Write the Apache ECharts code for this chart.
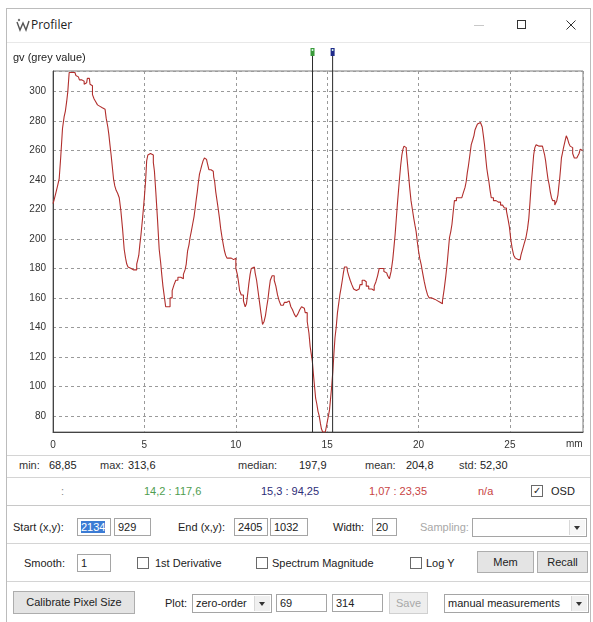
<!DOCTYPE html>
<html><head><meta charset="utf-8">
<script src="https://cdn.jsdelivr.net/npm/echarts@6/dist/echarts.min.js"></script>
<style>
body{margin:0;width:593px;height:622px;background:#fff;font-family:"Liberation Sans",Arial,sans-serif;font-size:11px;color:#222;position:relative;overflow:hidden}
.a{position:absolute;white-space:nowrap;line-height:14px}
.box{position:absolute;border:1px solid #a5a5a5;background:#fff;height:18px;line-height:16px;padding-left:3px;box-sizing:border-box;white-space:nowrap}
.btn{position:absolute;border:1px solid #adadad;background:#e4e4e4;text-align:center;box-sizing:border-box;line-height:20px;white-space:nowrap}
.cb{position:absolute;width:12px;height:12px;border:1px solid #6a6a6a;background:#fff;box-sizing:border-box}
.hl{position:absolute;height:1px;background:#d4d4d4}
.arrow{position:absolute;width:15px;top:1px;bottom:1px;right:1px;background:#f0f0f0;border-left:1px solid #d8d8d8}
.arrow:after{content:"";position:absolute;left:4px;top:6px;border-left:3px solid transparent;border-right:3px solid transparent;border-top:4px solid #333}
</style></head><body>
<div style="position:absolute;left:6px;top:8px;width:585px;height:620px;border:1px solid #bcbcbc;box-sizing:border-box"></div>
<svg class="a" style="left:16px;top:18px" width="14" height="14" viewBox="0 0 14 14"><path d="M1 4 L4 12 L7 5 L10 12 L13 3" fill="none" stroke="#555" stroke-width="1.4"/><circle cx="3" cy="2" r="1.2" fill="#777"/></svg>
<div class="a" style="left:31px;top:18px;font-family:'Open Sans',sans-serif;font-size:12px;color:#222">Profiler</div>
<div class="a" style="left:474px;top:25px;width:10px;height:1px;background:#c8c8c8"></div>
<div class="a" style="left:517px;top:20px;width:9px;height:9px;border:1px solid #333;box-sizing:border-box"></div>
<svg class="a" style="left:566px;top:20px" width="10" height="10"><path d="M0.5 0.5 L9.5 9.5 M9.5 0.5 L0.5 9.5" stroke="#333" stroke-width="1"/></svg>
<div class="hl" style="left:7px;top:42px;width:583px;background:#e8e8e8"></div>
<div id="chart" style="position:absolute;left:7px;top:43px;width:582px;height:412px"></div>
<div class="hl" style="left:7px;top:455px;width:583px"></div>
<div id="stats"></div>
<div class="hl" style="left:7px;top:477px;width:583px"></div>
<div class="hl" style="left:7px;top:505px;width:583px;background:#c8c8c8"></div>
<div class="hl" style="left:7px;top:543px;width:583px"></div>
<div class="hl" style="left:7px;top:581px;width:583px"></div>

<div class="a" style="left:13px;top:520px">Start (x,y):</div>
<div class="box" style="left:77px;top:518px;width:34px"><span style="background:#3b7bd4;color:#fff">2134</span></div>
<div class="box" style="left:114px;top:518px;width:37px">929</div>
<div class="a" style="left:178px;top:520px">End (x,y):</div>
<div class="box" style="left:234px;top:518px;width:34px">2405</div>
<div class="box" style="left:270px;top:518px;width:38px">1032</div>
<div class="a" style="left:333px;top:520px">Width:</div>
<div class="box" style="left:372px;top:518px;width:25px">20</div>
<div class="a" style="left:420px;top:520px;color:#a8a8a8">Sampling:</div>
<div class="box" style="left:472px;top:518px;width:115px;height:19px"><div class="arrow" style="background:#f6f6f6"></div></div>

<div class="a" style="left:24px;top:556px">Smooth:</div>
<div class="box" style="left:77px;top:554px;width:34px">1</div>
<div class="cb" style="left:137px;top:557px"></div><div class="a" style="left:155px;top:556px">1st Derivative</div>
<div class="cb" style="left:256px;top:557px"></div><div class="a" style="left:272px;top:556px">Spectrum Magnitude</div>
<div class="cb" style="left:410px;top:557px"></div><div class="a" style="left:426px;top:556px">Log Y</div>
<div class="btn" style="left:477px;top:551px;width:57px;height:22px">Mem</div>
<div class="btn" style="left:537px;top:551px;width:51px;height:22px">Recall</div>

<div class="btn" style="left:13px;top:591px;width:122px;height:23px">Calibrate Pixel Size</div>
<div class="a" style="left:165px;top:596px">Plot:</div>
<div class="box" style="left:192px;top:594px;width:80px;height:19px">zero-order<div class="arrow"></div></div>
<div class="box" style="left:276px;top:594px;width:51px">69</div>
<div class="box" style="left:332px;top:594px;width:51px">314</div>
<div class="btn" style="left:389px;top:592px;width:39px;height:22px;color:#a8a8a8;background:#eeeeee;border-color:#d0d0d0">Save</div>
<div class="box" style="left:444px;top:594px;width:145px;height:19px">manual measurements<div class="arrow"></div></div>

<script>
// profile position along the line (mm)
const xMm = [0.00,0.10,0.20,0.30,0.38,0.47,0.57,0.65,0.71,0.78,0.84,0.93,1.05,1.20,1.30,1.39,1.50,1.66,1.75,1.84,1.92,1.99,2.06,2.12,2.20,2.30,2.39,2.48,2.57,2.70,2.85,2.97,3.03,3.08,3.15,3.21,3.28,3.34,3.42,3.49,3.58,3.67,3.76,3.85,3.94,4.00,4.07,4.14,4.21,4.35,4.49,4.55,4.61,4.67,4.72,4.78,4.85,4.92,4.98,5.04,5.09,5.16,5.22,5.27,5.40,5.46,5.52,5.58,5.67,5.76,5.86,5.92,5.98,6.05,6.13,6.20,6.35,6.46,6.58,6.67,6.77,6.90,7.08,7.19,7.26,7.32,7.41,7.47,7.53,7.60,7.68,7.75,7.81,7.87,7.92,7.98,8.05,8.11,8.17,8.25,8.32,8.40,8.47,8.59,8.70,8.77,8.82,8.87,8.94,9.01,9.08,9.14,9.21,9.29,9.35,9.41,9.48,9.56,9.70,9.81,9.96,10.05,10.12,10.18,10.24,10.36,10.48,10.55,10.62,10.69,10.75,10.82,10.88,11.02,11.10,11.18,11.25,11.33,11.42,11.51,11.59,11.66,11.73,11.79,11.86,11.92,12.06,12.15,12.24,12.33,12.42,12.52,12.60,12.72,12.88,12.97,13.06,13.15,13.25,13.34,13.45,13.55,13.65,13.75,13.85,13.97,14.04,14.10,14.16,14.22,14.28,14.34,14.40,14.47,14.53,14.60,14.66,14.72,14.80,14.90,14.98,15.04,15.10,15.16,15.22,15.28,15.34,15.40,15.46,15.53,15.60,15.66,15.73,15.80,15.86,15.92,15.98,16.08,16.15,16.22,16.30,16.40,16.50,16.60,16.75,16.85,16.98,17.08,17.20,17.35,17.53,17.62,17.72,17.80,17.90,18.05,18.16,18.26,18.36,18.45,18.55,18.63,18.69,18.75,18.81,18.87,18.93,18.99,19.06,19.12,19.18,19.23,19.30,19.36,19.42,19.48,19.55,19.63,19.70,19.78,19.84,19.90,19.97,20.03,20.10,20.18,20.27,20.36,20.45,20.54,20.63,20.82,21.00,21.09,21.27,21.35,21.46,21.53,21.60,21.66,21.73,21.80,21.86,21.93,22.00,22.15,22.37,22.51,22.58,22.64,22.70,22.77,22.85,22.92,23.00,23.06,23.12,23.19,23.26,23.33,23.45,23.52,23.58,23.64,23.70,23.77,23.82,23.88,23.95,24.01,24.19,24.30,24.43,24.55,24.65,24.75,24.87,24.94,25.01,25.08,25.16,25.25,25.34,25.45,25.56,25.65,25.74,25.83,25.93,26.00,26.07,26.13,26.20,26.27,26.33,26.40,26.47,26.60,26.69,26.87,26.93,26.98,27.05,27.11,27.18,27.24,27.31,27.38,27.53,27.60,27.66,27.70,27.75,27.80,27.84,27.90,27.97,28.05,28.12,28.19,28.26,28.33,28.39,28.48,28.57,28.75,28.82,28.88,28.98];
// grey value
const gv = [224,226,231,236,241,256,275,283,287,293,300,313,313,313,311,310,308,307,305,306,309,309,305,304,298,295,293,291,290,289,288,282,276,271,264,257,249,241,236,233,231,228,219,207,193,187,183,181,180,179,178,179,183,186,189,196,203,212,221,230,239,253,257,258,258,257,252,246,232,214,193,184,176,168,161,154,154,160,165,169,172,174,173,176,179,183,192,196,201,205,210,215,221,227,232,238,244,247,250,253,255,254,252,247,246,246,242,239,232,226,220,214,207,201,196,192,189,187,187,186,187,180,176,171,165,162,158,154,156,163,170,176,180,181,177,172,165,158,150,142,144,148,154,159,166,172,175,172,168,162,158,155,155,157,158,157,154,152,149,147,149,152,154,153,150,144,136,127,122,117,108,100,92,88,83,80,75,71,69,69,70,76,80,84,92,100,110,122,133,140,150,156,162,167,172,177,181,181,178,175,172,169,166,165,166,169,172,171,168,166,165,168,171,175,180,180,178,177,175,173,178,186,195,203,213,223,232,241,250,257,261,263,262,260,252,244,235,226,220,214,209,205,198,192,187,183,177,171,166,162,160,159,158,157,156,158,166,175,183,192,201,205,210,218,226,228,228,231,235,239,245,250,257,264,267,270,274,276,278,279,278,276,270,264,256,248,243,239,233,228,226,225,225,223,222,221,219,213,208,200,194,189,187,186,186,189,193,197,201,207,214,225,237,247,257,262,264,263,263,262,257,253,247,241,237,232,228,226,223,226,230,236,241,248,255,258,262,266,270,268,265,263,262,258,255,255,258,261,260];
const xRange = [0, 29];
const yRange = [69, 314];
const xStep = 5;
const markerMm = [14.2, 15.3];
const statLabels = ["min:", "max:", "median:", "mean:", "std:"];
const statValues = ["68,85", "313,6", "197,9", "204,8", "52,30"];
const readouts = [":", "14,2 : 117,6", "15,3 : 94,25", "1,07 : 23,35", "n/a"];

// stats rows (HTML text)
const statPos = [[19,49],[100,128],[238,299],[365,406],[459,480]];
let html = "";
statLabels.forEach((l,i)=>{
  html += `<div class="a" style="left:${statPos[i][0]}px;top:458px;color:#333">${l}</div>`;
  html += `<div class="a" style="left:${statPos[i][1]}px;top:458px;color:#222">${statValues[i]}</div>`;
});
const roPos = [61,144,261,369,478];
const roCol = ["#888","#4f9d4f","#2d2d78","#c84444","#c84444"];
readouts.forEach((t,i)=>{
  html += `<div class="a" style="left:${roPos[i]}px;top:484px;color:${roCol[i]}">${t.replace(/ /g,"&nbsp;")}</div>`;
});
html += `<div class="cb" style="left:531px;top:485px;font-size:10px;line-height:9px;text-align:center;color:#222">&#10003;</div><div class="a" style="left:551px;top:484px">OSD</div>`;
document.getElementById("stats").innerHTML = html;

const chart = echarts.init(document.getElementById("chart"), null, {renderer:"canvas"});
const gridDash = {color:"#9a9a9a", type:[3,3], width:1};
chart.setOption({
  animation:false,
  grid:{left:46, top:28, width:530, height:361, show:true, borderColor:"#7a7a7a", borderWidth:1, backgroundColor:"#fff"},
  xAxis:{type:"value", min:xRange[0], max:xRange[1], interval:xStep,
    axisLine:{show:true, onZero:false, lineStyle:{color:"#444"}}, axisTick:{show:false},
    axisLabel:{fontSize:10, color:"#333", margin:8, showMaxLabel:false, fontFamily:"Liberation Sans"},
    splitLine:{show:true, lineStyle:gridDash}},
  yAxis:{type:"value", min:yRange[0], max:yRange[1], splitNumber:12,
    axisLine:{show:true, onZero:false, lineStyle:{color:"#444"}}, axisTick:{show:false},
    axisLabel:{fontSize:10, color:"#333", margin:7, showMinLabel:false, showMaxLabel:false, fontFamily:"Liberation Sans"},
    splitLine:{show:true, lineStyle:gridDash}},
  series:[{type:"line", step:"middle", symbol:"none", clip:true,
    data:xMm.map((x,i)=>[x, gv[i]]),
    lineStyle:{color:"#b12f2d", width:1.1}}]
});
const gx = markerMm.map(m=>chart.convertToPixel({xAxisIndex:0}, m));
const markCol = ["#3a9a3a","#1f2a8a"];
const gEls = [
  {type:"text", left:6, top:9, style:{text:"gv (grey value)", fontSize:11, fill:"#222", fontFamily:"Liberation Sans"}},
  {type:"text", left:559, top:396, style:{text:"mm", fontSize:10, fill:"#333", fontFamily:"Liberation Sans"}}
];
gx.forEach((x,i)=>{
  gEls.push({type:"line", shape:{x1:x, y1:10, x2:x, y2:389}, style:{stroke:"#2a2a2a", lineWidth:1}, z:10});
  gEls.push({type:"rect", shape:{x:x-2, y:5, width:4, height:8}, style:{fill:markCol[i]}, z:11});
  gEls.push({type:"circle", shape:{cx:x, cy:7, r:1}, style:{fill:"#dfe"}, z:12});
});
chart.setOption({graphic:gEls});
</script>
</body></html>
